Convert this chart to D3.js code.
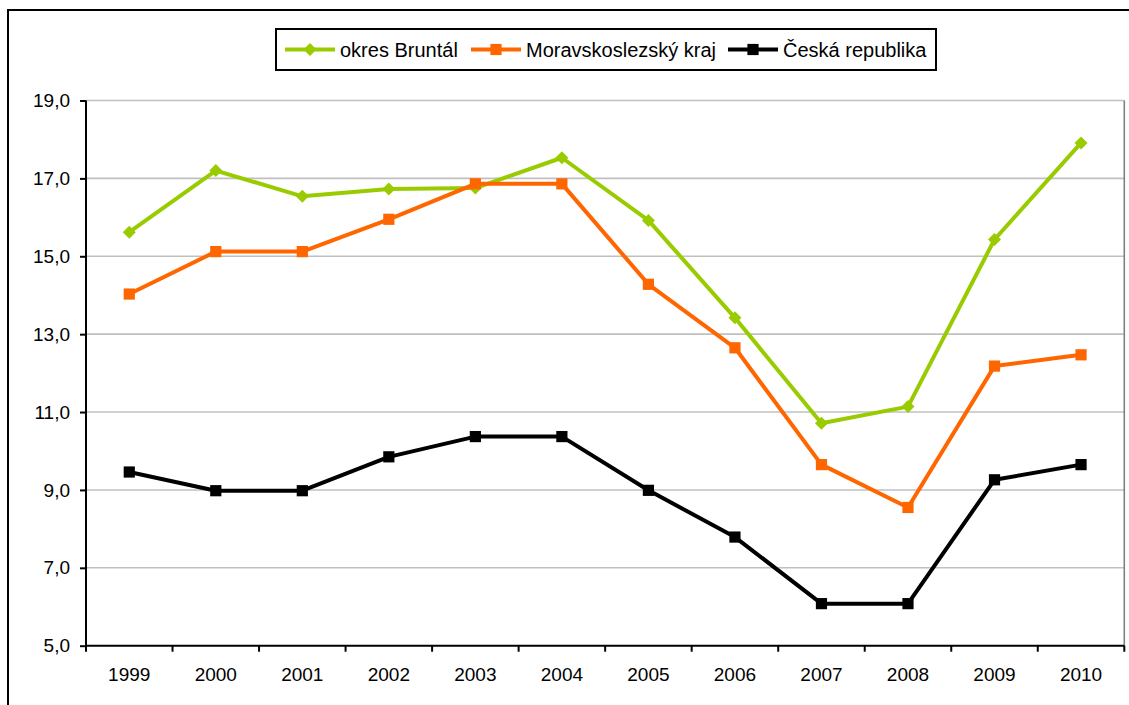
<!DOCTYPE html>
<html>
<head>
<meta charset="utf-8">
<script src="https://cdn.jsdelivr.net/npm/d3@7"></script>
<style>
  html, body { margin: 0; padding: 0; background: #fff; }
  svg { display: block; }
  text { font-family: "Liberation Sans", Arial, sans-serif; fill: #000; }
</style>
</head>
<body>
<svg id="chart" width="1129" height="705"></svg>
<script>
const years = ["1999","2000","2001","2002","2003","2004","2005","2006","2007","2008","2009","2010"];
const bruntal = [15.62, 17.20, 16.54, 16.73, 16.75, 17.53, 15.92, 13.42, 10.71, 11.14, 15.43, 17.91];
const msKraj  = [14.03, 15.12, 15.12, 15.95, 16.86, 16.86, 14.28, 12.65, 9.65, 8.55, 12.18, 12.47];
const cr      = [9.46, 8.98, 8.98, 9.85, 10.37, 10.37, 8.99, 7.79, 6.08, 6.08, 9.26, 9.65];
const yTicks  = [5, 7, 9, 11, 13, 15, 17, 19];
const seriesNames = ["okres Bruntál", "Moravskoslezský kraj", "Česká republika"];
const seriesColors = ["#99cc00", "#ff6600", "#000000"];
const seriesMarkers = ["diamond", "square", "square"];

(function () {
const series = [bruntal, msKraj, cr].map((vals, i) => ({
  name: seriesNames[i], color: seriesColors[i], marker: seriesMarkers[i], values: vals
}));

const svg = d3.select("#chart");
const pLeft = 86, pRight = 1124.3, pTop = 100.5, pBottom = 645.7;

// outer frame
svg.append("rect").attr("x", 8).attr("y", 10).attr("width", 1140).attr("height", 720)
  .attr("fill", "none").attr("stroke", "#000").attr("stroke-width", 2);

const x = d3.scaleBand().domain(years).range([pLeft, pRight]).padding(0);
const y = d3.scaleLinear().domain([5, 19]).range([pBottom, pTop]);

// gridlines
svg.append("g").selectAll("line").data(yTicks.filter(v => v > 5)).join("line")
  .attr("x1", pLeft).attr("x2", pRight)
  .attr("y1", d => y(d)).attr("y2", d => y(d))
  .attr("stroke", "#c0c0c0").attr("stroke-width", 1.6);

// right border of plot area
svg.append("line").attr("x1", pRight).attr("x2", pRight).attr("y1", pTop).attr("y2", pBottom)
  .attr("stroke", "#808080").attr("stroke-width", 1.6);

// y axis
const yAxis = d3.axisLeft(y).tickValues(yTicks).tickSize(6).tickPadding(10)
  .tickFormat(d => d3.format(".1f")(d).replace(".", ","));
const gy = svg.append("g").attr("transform", `translate(${pLeft},0)`).call(yAxis);
gy.select(".domain").attr("stroke", "#000").attr("stroke-width", 2).attr("d", `M0,${pTop}V${pBottom}`);
gy.selectAll(".tick line").attr("stroke", "#000").attr("stroke-width", 2);
gy.selectAll(".tick text").attr("font-size", "19px").attr("font-family", "Liberation Sans, Arial, sans-serif").attr("fill", "#000");

// x axis
const xAxis = d3.axisBottom(x).tickSize(0).tickPadding(22);
const gx = svg.append("g").attr("transform", `translate(0,${pBottom})`).call(xAxis);
gx.select(".domain").attr("stroke", "#000").attr("stroke-width", 2).attr("d", `M${pLeft},0H${pRight}`);
gx.selectAll(".tick text").attr("font-size", "19px").attr("font-family", "Liberation Sans, Arial, sans-serif").attr("fill", "#000");
const bounds = years.map(d => x(d)).concat([pRight]);
gx.append("g").selectAll("line").data(bounds).join("line")
  .attr("x1", d => d).attr("x2", d => d).attr("y1", 0).attr("y2", 6)
  .attr("stroke", "#000").attr("stroke-width", 2);

const cx = d => x(d) + x.bandwidth() / 2;
const line = d3.line().x((d, i) => cx(years[i])).y(d => y(d));

function drawMarker(g, type, color, px, py) {
  if (type === "diamond") {
    const s = 6.5;
    g.append("path").attr("d", `M${px},${py - s}L${px + s},${py}L${px},${py + s}L${px - s},${py}Z`).attr("fill", color);
  } else {
    const s = 5.6;
    g.append("rect").attr("x", px - s).attr("y", py - s).attr("width", 2 * s).attr("height", 2 * s).attr("fill", color);
  }
}

series.forEach(s => {
  const g = svg.append("g");
  g.append("path").datum(s.values).attr("d", line).attr("fill", "none")
    .attr("stroke", s.color).attr("stroke-width", 4).attr("stroke-linejoin", "round");
  s.values.forEach((v, i) => drawMarker(g, s.marker, s.color, cx(years[i]), y(v)));
});

// legend
const lg = svg.append("g");
lg.append("rect").attr("x", 276).attr("y", 29).attr("width", 660).attr("height", 41)
  .attr("fill", "#fff").attr("stroke", "#000").attr("stroke-width", 2);
const legendX = [285, 471, 728];
series.forEach((s, i) => {
  const lx = legendX[i], ly = 49.5;
  lg.append("line").attr("x1", lx).attr("x2", lx + 50).attr("y1", ly).attr("y2", ly)
    .attr("stroke", s.color).attr("stroke-width", 4);
  drawMarker(lg, s.marker, s.color, lx + 25, ly);
  lg.append("text").attr("x", lx + 55).attr("y", ly + 7).attr("font-size", "20px").text(s.name);
});
})();
</script>
</body>
</html>
